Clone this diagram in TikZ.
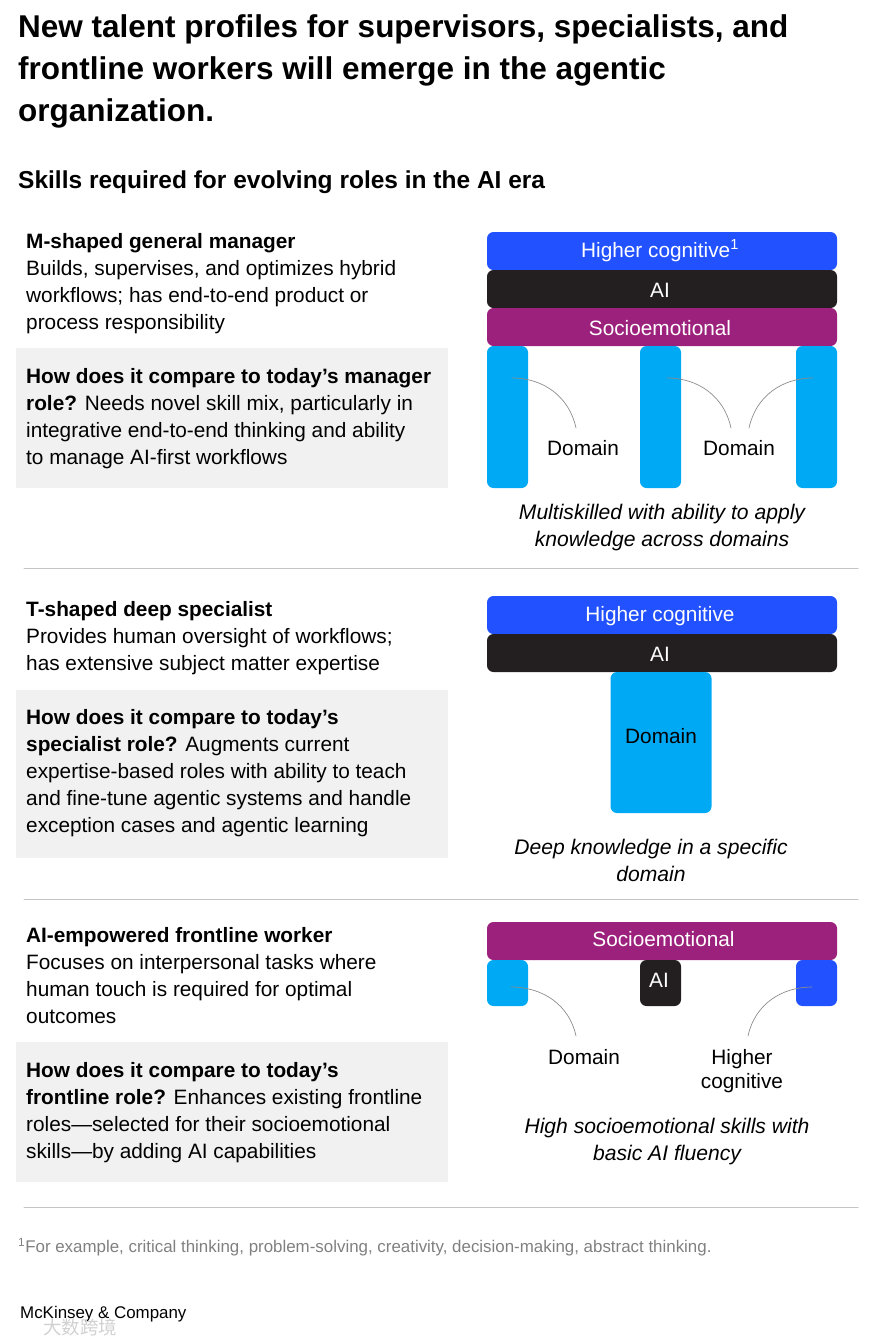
\documentclass[tikz,border=0pt]{standalone}
\usepackage{fontspec}
\setmainfont{Liberation Sans}
\newfontfamily\cjkwm{Noto Sans CJK SC}
\usepackage{xcolor}
\definecolor{hcblue}{HTML}{2251FF}
\definecolor{aiblack}{HTML}{231F20}
\definecolor{seplum}{HTML}{9C217D}
\definecolor{domcyan}{HTML}{00A9F4}
\definecolor{panelgray}{HTML}{F1F1F1}
\definecolor{rulegray}{HTML}{C4C4C4}
\newcommand{\bodysize}{\fontsize{20.8}{27}\selectfont}
\tikzset{
  bar/.style={inner sep=0pt,rounded corners=6.5pt,text=white,font=\bodysize,text height=17pt,text depth=0pt},
  bodytext/.style={inner sep=0pt,anchor=north west,align=left,font=\bodysize},
  labeltext/.style={inner sep=0pt,align=center,font=\bodysize},
  captext/.style={inner sep=0pt,align=center,font=\fontsize{21.1}{27}\selectfont\itshape},
  panel/.style={inner sep=0pt,fill=panelgray,minimum width=432pt,anchor=north west},
  leader/.style={draw=black!45,line width=0.7pt},
  seprule/.style={draw=rulegray,line width=1pt}
}
\begin{document}
\begin{tikzpicture}[x=1pt,y=-1pt,line cap=round]
\useasboundingbox (0,0) rectangle (881,1344);
\node[inner sep=0pt,anchor=north west,align=left,font=\fontsize{31.5}{42}\selectfont\bfseries] (title) at (18,14)
  {New talent profiles for supervisors, specialists, and\\frontline workers will emerge in the agentic\\organization.};
\node[inner sep=0pt,anchor=west,font=\fontsize{24.5}{30}\selectfont\bfseries] (subtitle) at (18,182)
  {Skills required for evolving roles in the AI era};
% gray panels
\node[panel,minimum height=140pt] (mPanel) at (16,348) {};
\node[panel,minimum height=168pt] (tPanel) at (16,690) {};
\node[panel,minimum height=140pt] (fPanel) at (16,1042) {};
% manager
\node[bodytext] (mText) at (26,233) {\textbf{M-shaped general manager}\\Builds, supervises, and optimizes hybrid\\workflows; has end-to-end product or\\process responsibility};
\node[bodytext] (mCompare) at (26,368) {\textbf{How does it compare to today’s manager}\\\textbf{role?} Needs novel skill mix, particularly in\\integrative end-to-end thinking and ability\\to manage AI-first workflows};
\node[bar,fill=hcblue,minimum width=350pt,minimum height=38pt,text height=12pt] (mHigher) at (662,251) {Higher cognitive\textsuperscript{1}\hspace*{4pt}};
\node[bar,fill=aiblack,minimum width=350pt,minimum height=38pt] (mAI) at (662,289) {AI\hspace*{4pt}};
\node[bar,fill=seplum,minimum width=350pt,minimum height=38pt] (mSocio) at (662,327) {Socioemotional\hspace*{4pt}};
\node[bar,fill=domcyan,minimum width=41pt,minimum height=142pt] (mColA) at (507.5,417) {};
\node[bar,fill=domcyan,minimum width=41pt,minimum height=142pt] (mColB) at (660.5,417) {};
\node[bar,fill=domcyan,minimum width=41pt,minimum height=142pt] (mColC) at (816.5,417) {};
\node[labeltext] (mDomA) at (583,448) {Domain};
\node[labeltext] (mDomB) at (739,448) {Domain};
\coordinate (mInA) at (512,378);
\coordinate (mInB) at (667,378);
\coordinate (mInC) at (813,378);
\coordinate (mEndA) at (576,428);
\coordinate (mEndB) at (731,428);
\coordinate (mEndC) at (749,428);
\draw[leader] (mInA) to[out=0,in=102] (mEndA);
\draw[leader] (mInB) to[out=0,in=102] (mEndB);
\draw[leader] (mInC) to[out=180,in=78] (mEndC);
\node[captext] (mCap) at (662,527.5) {Multiskilled with ability to apply\\knowledge across domains};
\draw[seprule] (24,568) -- (858,568);
% specialist
\node[bodytext] (tText) at (26,601) {\textbf{T-shaped deep specialist}\\Provides human oversight of workflows;\\has extensive subject matter expertise};
\node[bodytext] (tCompare) at (26,709) {\textbf{How does it compare to today’s}\\\textbf{specialist role?} Augments current\\expertise-based roles with ability to teach\\and fine-tune agentic systems and handle\\exception cases and agentic learning};
\node[bar,fill=hcblue,minimum width=350pt,minimum height=38pt,text height=12pt] (tHigher) at (662,615) {Higher cognitive\hspace*{4pt}};
\node[bar,fill=aiblack,minimum width=350pt,minimum height=38pt] (tAI) at (662,653) {AI\hspace*{4pt}};
\node[bar,fill=domcyan,minimum width=101pt,minimum height=141pt] (tDomain) at (661,742.5) {};
\node[labeltext] (tDomText) at (661,736) {Domain};
\node[captext] (tCap) at (651,860.5) {Deep knowledge in a specific\\domain};
\draw[seprule] (24,899) -- (858,899);
% frontline
\node[bodytext] (fText) at (26,927) {\textbf{AI-empowered frontline worker}\\Focuses on interpersonal tasks where\\human touch is required for optimal\\outcomes};
\node[bodytext] (fCompare) at (26,1062) {\textbf{How does it compare to today’s}\\\textbf{frontline role?} Enhances existing frontline\\roles—selected for their socioemotional\\skills—by adding AI capabilities};
\node[bar,fill=seplum,minimum width=350pt,minimum height=38pt,text height=10pt] (fSocio) at (662,941) {\hspace*{3pt}Socioemotional};
\node[bar,fill=domcyan,minimum width=41pt,minimum height=46pt] (fDomain) at (507.5,983) {};
\node[bar,fill=aiblack,minimum width=41pt,minimum height=46pt,text height=8pt] (fAI) at (660.5,983) {AI\hspace*{3pt}};
\node[bar,fill=hcblue,minimum width=41pt,minimum height=46pt] (fHigher) at (816.5,983) {};
\node[labeltext] (fDomText) at (584,1057) {Domain};
\node[labeltext] (fHighText) at (742,1071) {Higher\\[-3pt]cognitive};
\coordinate (fInA) at (511,987);
\coordinate (fInB) at (812,987);
\coordinate (fEndA) at (576,1036);
\coordinate (fEndB) at (748,1036);
\draw[leader] (fInA) to[out=0,in=102] (fEndA);
\draw[leader] (fInB) to[out=180,in=78] (fEndB);
\node[captext] (fCap) at (667,1141.5) {High socioemotional skills with\\basic AI fluency};
\draw[seprule] (24,1207) -- (858,1207);
% footer
\node[inner sep=0pt,anchor=west,text=black!50,font=\fontsize{16.9}{20}\selectfont] (footnote) at (18,1247) {\textsuperscript{1}For example, critical thinking, problem-solving, creativity, decision-making, abstract thinking.};
\node[inner sep=0pt,anchor=west,font=\fontsize{16.9}{20}\selectfont] (brand) at (20,1314) {McKinsey \& Company};
\node[inner sep=0pt,anchor=west,text=black!18,font=\fontsize{18.5}{20}\cjkwm] (mark) at (43,1327) {大数跨境};
\end{tikzpicture}
\end{document}
